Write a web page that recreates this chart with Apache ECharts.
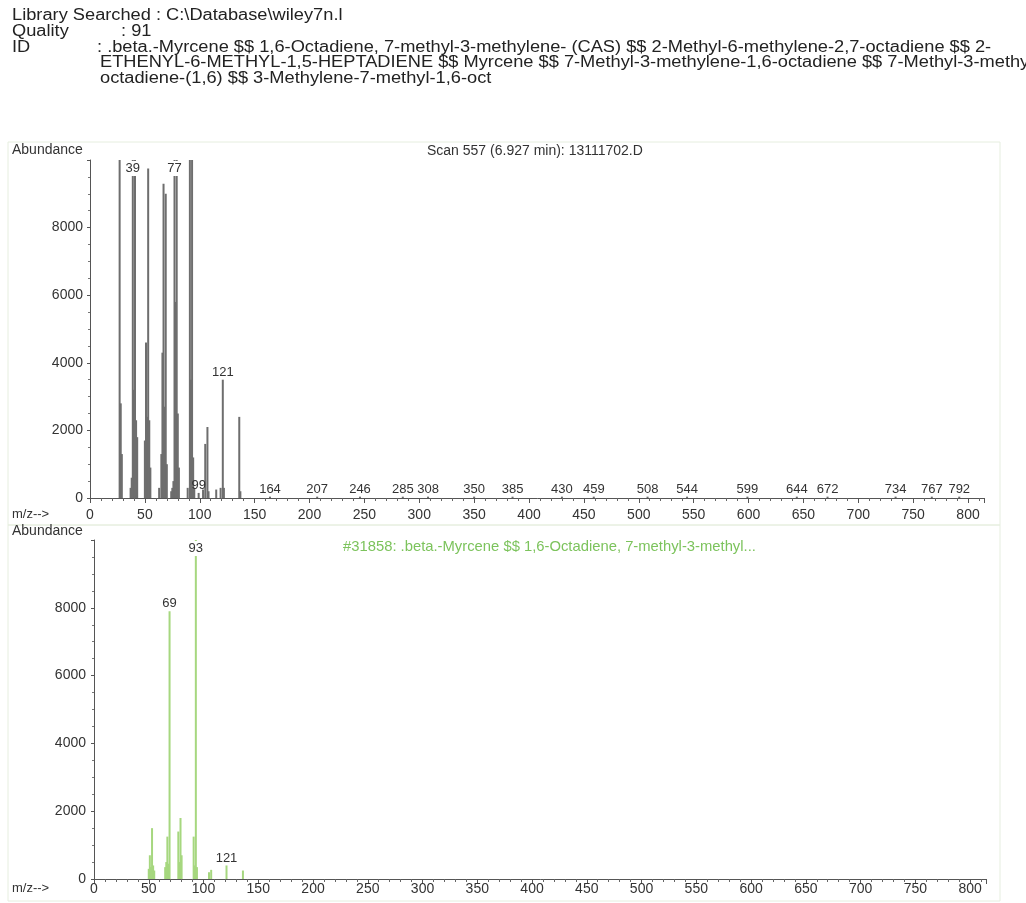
<!DOCTYPE html>
<html><head><meta charset="utf-8">
<script src="https://cdn.jsdelivr.net/npm/echarts@6/dist/echarts.min.js"></script>
<style>html,body{margin:0;padding:0;background:#fff}#c{width:1026px;height:903px}</style>
</head><body><div id="c"></div>
<script>
// ---- data ----
const headerLines = [
  ['Library Searched : C:\\Database\\wiley7n.l', ''],
  ['Quality', ': 91'],
  ['ID', ': .beta.-Myrcene $$ 1,6-Octadiene, 7-methyl-3-methylene- (CAS) $$ 2-Methyl-6-methylene-2,7-octadiene $$ 2-'],
  ['', 'ETHENYL-6-METHYL-1,5-HEPTADIENE $$ Myrcene $$ 7-Methyl-3-methylene-1,6-octadiene $$ 7-Methyl-3-methylene-'],
  ['', 'octadiene-(1,6) $$ 3-Methylene-7-methyl-1,6-oct']
];
const scanTitle = 'Scan 557 (6.927 min): 13111702.D';
const libTitle = '#31858: .beta.-Myrcene $$ 1,6-Octadiene, 7-methyl-3-methyl...';

// measured scan spectrum (top)
const scanMz = [27,28,29,37,38,39,40,41,42,43,50,51,52,53,54,55,63,65,66,67,68,69,70,74,75,76,77,78,79,80,81,89,91,92,93,94,95,99,103,105,107,108,115,119,121,122,136,137,
  164,207,246,285,308,350,385,430,459,508,544,599,644,672,734,767,792];
const scanAbund = [10000,2800,1300,300,600,10000,3200,10000,2300,1800,1700,4600,2400,9750,2300,900,300,1300,4300,9300,2700,9000,1000,200,300,500,10000,5800,10000,2500,900,300,10000,3500,10000,1200,300,150,250,1600,2100,200,250,300,3500,300,2400,200,
  40,40,40,40,40,40,40,40,40,40,40,40,40,40,40,40,40];
const scanLabelInside = [39,77];
const scanLabelTop = [99,121,164,207,246,285,308,350,385,430,459,508,544,599,644,672,734,767,792];

// library spectrum (bottom)
const libMz = [50,51,52,53,54,55,65,66,67,68,69,77,78,79,80,91,92,93,94,105,107,121,136];
const libAbund = [300,700,350,1500,400,250,350,500,1250,450,7900,1400,500,1800,700,1250,400,9999,350,200,270,400,250];
const libLabelInside = [93];
const libLabelTop = [69,121];

const xMin = 0, xMax = 815, xInterval = 50;
const yMin = 0, yMax = 10000, yInterval = 2000;

// ---- chart ----
const FONT = "'Liberation Sans', Arial, sans-serif";
const chart = echarts.init(document.getElementById('c'));

function build(mz, ab, inside, top) {
  return mz.map((m, i) => {
    const item = { value: [m, ab[i]] };
    if (inside.includes(m)) {
      item.label = { show: true, position: 'insideTop', distance: 1, backgroundColor: '#fff', padding: [1,1,1,1] };
    } else if (top.includes(m)) {
      item.label = { show: true, position: 'top', distance: 1 };
    }
    return item;
  });
}

function xAxisCfg(gi, margin) {
  return {
    type: 'value', gridIndex: gi, min: xMin, max: xMax, interval: xInterval,
    axisLine: { lineStyle: { color: '#555', width: 1 } },
    axisTick: { show: true, length: 5, lineStyle: { color: '#555' } },
    minorTick: { show: true, splitNumber: 5, length: 3, lineStyle: { color: '#666' } },
    splitLine: { show: false },
    axisLabel: { color: '#333', fontSize: 14, fontFamily: FONT, margin: margin,
      formatter: v => (v % 50 === 0 ? String(v) : '') }
  };
}
function yAxisCfg(gi, off) {
  return {
    type: 'value', gridIndex: gi, min: yMin, max: yMax, interval: yInterval, offset: off,
    axisLine: { show: true, lineStyle: { color: '#555', width: 1 } },
    axisTick: { show: true, length: 3, lineStyle: { color: '#555' } },
    minorTick: { show: true, splitNumber: 4, length: 2, lineStyle: { color: '#777' } },
    splitLine: { show: false },
    axisLabel: { color: '#333', fontSize: 14, fontFamily: FONT, margin: 3,
      formatter: v => (v >= yMax ? '' : String(v)) }
  };
}

const HFONT = '16px ' + FONT;
const HSCALE = 1.14;
const graphics = [];
headerLines.forEach((ln, i) => {
  const y = 15.5 + i * 15.8;
  if (ln[0]) graphics.push({ type: 'text', x: 12, y: y, scaleX: HSCALE, style: { text: ln[0], font: HFONT, fill: '#222', verticalAlign: 'middle' } });
  if (ln[1]) {
    const x = i === 1 ? 121 : (i === 2 ? 97 : 100);
    graphics.push({ type: 'text', x: x, y: y, scaleX: HSCALE, style: { text: ln[1], font: HFONT, fill: '#222', verticalAlign: 'middle' } });
  }
});
graphics.push(
  { type: 'text', left: 12, top: 143, style: { text: 'Abundance', font: '14px ' + FONT, fill: '#333' } },
  { type: 'text', left: 427, top: 144, style: { text: scanTitle, font: '14px ' + FONT, fill: '#333' } },
  { type: 'text', left: 12, top: 508, style: { text: 'm/z-->', font: '13px ' + FONT, fill: '#333' } },
  { type: 'text', left: 12, top: 524, style: { text: 'Abundance', font: '14px ' + FONT, fill: '#333' } },
  { type: 'text', left: 343, top: 539, style: { text: libTitle, font: '14.8px ' + FONT, fill: '#7cc35c' } },
  { type: 'text', left: 12, top: 882, style: { text: 'm/z-->', font: '13px ' + FONT, fill: '#333' } },
  { type: 'rect', shape: { x: 8, y: 142, width: 992, height: 383 }, style: { fill: 'none', stroke: '#e6eedf', lineWidth: 1 }, z: -1 },
  { type: 'rect', shape: { x: 8, y: 525, width: 992, height: 376 }, style: { fill: 'none', stroke: '#e6eedf', lineWidth: 1 }, z: -1 }
);

const labelStyle = { color: '#333', fontSize: 13, fontFamily: FONT, formatter: p => String(p.value[0]) };

chart.setOption({
  animation: false,
  backgroundColor: '#fff',
  grid: [
    { left: 90, top: 160, width: 894.5, height: 338 },
    { left: 94, top: 540, width: 892.5, height: 339 }
  ],
  xAxis: [xAxisCfg(0, 10), xAxisCfg(1, 3)],
  yAxis: [yAxisCfg(0, 4), yAxisCfg(1, 5)],
  graphic: graphics,
  series: [
    { type: 'bar', xAxisIndex: 0, yAxisIndex: 0, barWidth: 2, barGap: '-100%',
      itemStyle: { color: '#6e6e6e' }, label: labelStyle,
      data: build(scanMz, scanAbund, scanLabelInside, scanLabelTop) },
    { type: 'bar', xAxisIndex: 1, yAxisIndex: 1, barWidth: 2, barGap: '-100%',
      itemStyle: { color: '#a6d77f' }, label: labelStyle,
      data: build(libMz, libAbund, libLabelInside, libLabelTop) }
  ]
});
</script>
</body></html>
